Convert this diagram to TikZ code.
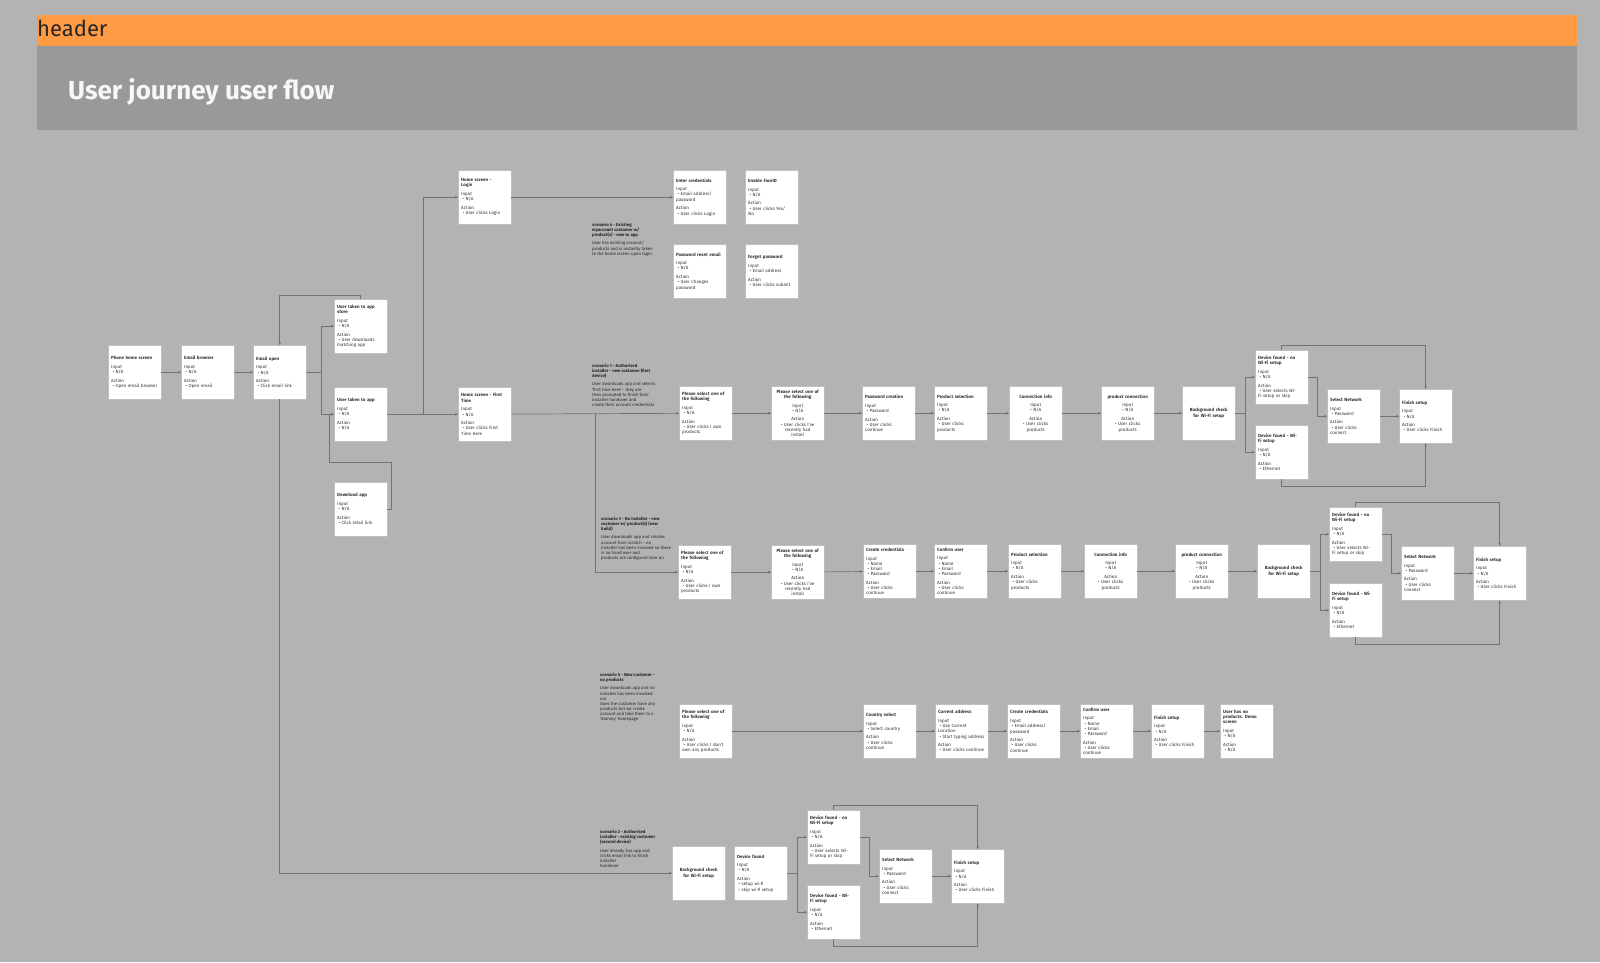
\documentclass[tikz,border=0pt]{standalone}
\usepackage{fontspec}
\setmainfont{Fira Sans}
\usetikzlibrary{arrows.meta}

\definecolor{canvas}{HTML}{B3B3B3}
\definecolor{headorange}{HTML}{FF9B45}
\definecolor{titlegray}{HTML}{999999}

\def\boxw{47}
% pieces of a screen card
\newcommand{\inp}{\par\vspace{3.5pt}Input}
\newcommand{\act}{\par\vspace{3.5pt}Action}
\newcommand{\bul}[1]{\par\hangindent=6pt\hangafter=1\hspace*{1.5pt}\textbullet\hspace{1.5pt}#1}
\newcommand{\cbul}[1]{\par\textbullet\ #1}

\begin{document}
\begin{tikzpicture}[x=1pt, y=-1pt, >={Stealth[length=3pt,width=2.6pt]}]
    \tikzstyle{screen}=[draw=black!25, fill=white, line width=0.4pt, anchor=north west, text width=\boxw, inner xsep=3, inner ysep=2, minimum height=54, align=left, font=\fontsize{4.5}{5.2}\selectfont, text=black!80]
    \tikzstyle{centred screen}=[screen, align=center]
    \tikzstyle{note}=[anchor=north west, inner sep=0, align=left, font=\fontsize{4.3}{5.1}\selectfont, text=black!85]
    \tikzstyle{link}=[->, draw=black!55, line width=0.7pt]

    % Canvas and header bands
    \fill[canvas] (0,0) rectangle (1600,962);
    \fill[headorange] (37,15) rectangle (1577,46);
    \fill[titlegray] (37,46) rectangle (1577,130);
    \node[anchor=west, inner sep=0, font=\fontsize{22}{26}\selectfont, text=black!85] (hdr) at (37,28) {header};
    \node[anchor=base west, inner sep=0, font=\bfseries\fontsize{26}{30}\selectfont, text=white!97!black] (title) at (68,99) {User journey user flow};

    % Entry screens
    \node[screen] (phone) at (108,345) {\textbf{Phone home screen}\inp\bul{N/A}\act\bul{Open email browser}};
    \node[screen] (browser) at (181,345) {\textbf{Email browser}\inp\bul{N/A}\act\bul{Open email}};
    \node[screen] (eopen) at (253,345) {\textbf{Email open}\inp\bul{N/A}\act\bul{Click email link}};
    \node[screen] (store) at (334,299) {\textbf{User taken to app\\store}\inp\bul{N/A}\act\bul{User downloads\\matching app}};
    \node[screen] (app) at (334,387) {\textbf{User taken to app}\inp\bul{N/A}\act\bul{N/A}};
    \node[screen] (download) at (334,482) {\textbf{Download app}\inp\bul{N/A}\act\bul{Click retail link}};

    % Scenario 4 - login
    \node[screen] (login) at (458,170) {\textbf{Home screen -\\Login}\inp\bul{N/A}\act\bul{User clicks Login}};
    \node[screen] (creds) at (673,170) {\textbf{Enter credentials}\inp\bul{Email address/\\password}\act\bul{User clicks Login}};
    \node[screen] (faceid) at (745,170) {\textbf{Enable FaceID}\inp\bul{N/A}\act\bul{User clicks Yes/\\No}};
    \node[screen] (reset) at (673,244) {\textbf{Password reset email}\inp\bul{N/A}\act\bul{User Changes\\password}};
    \node[screen] (forgot) at (745,244) {\textbf{Forgot password}\inp\bul{Email address}\act\bul{User clicks submit}};
    \node[note] (sc4) at (592,223) {\textbf{scenario 4 - Existing}\\\textbf{myaccount customer w/}\\\textbf{product(s) - new to app}\\[3pt]User has existing account/\\products and is instantly taken\\to the home screen upon login.};

    % Scenario 1 - first time here
    \node[screen] (first) at (458,387) {\textbf{Home screen - First\\Time}\inp\bul{N/A}\act\bul{User clicks First\\Time Here}};
    \node[screen] (sel1a) at (679,386) {\textbf{Please select one of\\the following}\inp\bul{N/A}\act\bul{User clicks I own\\products}};
    \node[centred screen] (sel1b) at (771,386) {\textbf{Please select one of\\the following}\inp\cbul{N/A}\act\cbul{User clicks I've\\recently had\\install}};
    \node[screen] (pwd1) at (862,386) {\textbf{Password creation}\inp\bul{Password}\act\bul{User clicks\\continue}};
    \node[screen] (prod1) at (934,386) {\textbf{Product selection}\inp\bul{N/A}\act\bul{User clicks\\products}};
    \node[centred screen] (conn1) at (1009,386) {\textbf{Connection info}\inp\cbul{N/A}\act\cbul{User clicks\\products}};
    \node[centred screen] (pconn1) at (1101,386) {\textbf{product connection}\inp\cbul{N/A}\act\cbul{User clicks\\products}};
    \node[centred screen] (bg1) at (1182,386) {\textbf{Background check\\for Wi-Fi setup}};
    \node[screen] (nowifi1) at (1255,350) {\textbf{Device found - no\\Wi-Fi setup}\inp\bul{N/A}\act\bul{User selects Wi-\\Fi setup or skip}};
    \node[screen] (wifi1) at (1255,425) {\textbf{Device found - Wi-\\Fi setup}\inp\bul{N/A}\act\bul{Ethernet}};
    \node[screen] (net1) at (1327,389) {\textbf{Select Network}\inp\bul{Password}\act\bul{User clicks\\connect}};
    \node[screen] (fin1) at (1399,389) {\textbf{Finish setup}\inp\bul{N/A}\act\bul{User clicks Finish}};
    \node[note] (sc1) at (592,364) {\textbf{scenario 1 - Authorised}\\\textbf{installer - new customer (first}\\\textbf{device)}\\[3pt]User downloads app and selects\\`first time here' - they are\\then prompted to finish their\\installer handover and\\create their account credentials};

    % Scenario 3 - no installer
    \node[screen] (sel2a) at (678,545) {\textbf{Please select one of\\the following}\inp\bul{N/A}\act\bul{User clicks I own\\products}};
    \node[centred screen] (sel2b) at (771,545) {\textbf{Please select one of\\the following}\inp\cbul{N/A}\act\cbul{User clicks I've\\recently had\\install}};
    \node[screen] (cred2) at (863,544) {\textbf{Create credentials}\inp\bul{Name}\bul{Email}\bul{Password}\act\bul{User clicks\\continue}};
    \node[screen] (conf2) at (934,544) {\textbf{Confirm user}\inp\bul{Name}\bul{Email}\bul{Password}\act\bul{User clicks\\continue}};
    \node[screen] (prod2) at (1008,544) {\textbf{Product selection}\inp\bul{N/A}\act\bul{User clicks\\products}};
    \node[centred screen] (conn2) at (1084,544) {\textbf{Connection info}\inp\cbul{N/A}\act\cbul{User clicks\\products}};
    \node[centred screen] (pconn2) at (1175,544) {\textbf{product connection}\inp\cbul{N/A}\act\cbul{User clicks\\products}};
    \node[centred screen] (bg2) at (1257,544) {\textbf{Background check\\for Wi-Fi setup}};
    \node[screen] (nowifi2) at (1329,507) {\textbf{Device found - no\\Wi-Fi setup}\inp\bul{N/A}\act\bul{User selects Wi-\\Fi setup or skip}};
    \node[screen] (wifi2) at (1329,583) {\textbf{Device found - Wi-\\Fi setup}\inp\bul{N/A}\act\bul{Ethernet}};
    \node[screen] (net2) at (1401,546) {\textbf{Select Network}\inp\bul{Password}\act\bul{User clicks\\connect}};
    \node[screen] (fin2) at (1473,546) {\textbf{Finish setup}\inp\bul{N/A}\act\bul{User clicks Finish}};
    \node[note] (sc3) at (601,517) {\textbf{scenario 3 - No installer - new}\\\textbf{customer w/ product(s) (new}\\\textbf{build)}\\[3pt]User downloads app and creates\\account from scratch - no\\installer has been involved so there\\is no hand over and\\products are configured later on};

    % Scenario 5 - no products
    \node[screen] (sel3) at (679,704) {\textbf{Please select one of\\the following}\inp\bul{N/A}\act\bul{User clicks I don't\\own any products}};
    \node[screen] (country) at (863,704) {\textbf{Country select}\inp\bul{Select country}\act\bul{User clicks\\continue}};
    \node[screen] (address) at (935,704) {\textbf{Current address}\inp\bul{Use Current\\Location}\bul{Start typing address}\act\bul{User clicks continue}};
    \node[screen] (cred3) at (1007,704) {\textbf{Create credentials}\inp\bul{Email address/\\password}\act\bul{User clicks\\continue}};
    \node[screen] (conf3) at (1080,704) {\textbf{Confirm user}\inp\bul{Name}\bul{Email}\bul{Password}\act\bul{User clicks\\continue}};
    \node[screen] (fin3) at (1151,704) {\textbf{Finish setup}\inp\bul{N/A}\act\bul{User clicks Finish}};
    \node[screen] (nodemo) at (1220,704) {\textbf{User has no\\products: Demo\\screen}\inp\bul{N/A}\act\bul{N/A}};
    \node[note] (sc5) at (600,673) {\textbf{scenario 5 - New customer -}\\\textbf{no products}\\[3pt]User downloads app and no\\installer has been involved\\nor\\does the customer have any\\products but we create\\account and take them to a\\`dummy' homepage};

    % Scenario 2 - existing customer, second device
    \node[centred screen] (bg4) at (672,846) {\textbf{Background check\\for Wi-Fi setup}};
    \node[screen] (found4) at (734,846) {\textbf{Device found}\inp\bul{N/A}\act\bul{setup wi-fi}\bul{skip wi-fi setup}};
    \node[screen] (nowifi4) at (807,810) {\textbf{Device found - no\\Wi-Fi setup}\inp\bul{N/A}\act\bul{User selects Wi-\\Fi setup or skip}};
    \node[screen] (wifi4) at (807,885) {\textbf{Device found - Wi-\\Fi setup}\inp\bul{N/A}\act\bul{Ethernet}};
    \node[screen] (net4) at (879,849) {\textbf{Select Network}\inp\bul{Password}\act\bul{User clicks\\connect}};
    \node[screen] (fin4) at (951,849) {\textbf{Finish setup}\inp\bul{N/A}\act\bul{User clicks Finish}};
    \node[note] (sc2) at (600,830) {\textbf{scenario 2 - Authorised}\\\textbf{installer - existing customer}\\\textbf{(second device)}\\[3pt]User already has app and\\clicks email link to finish\\installer\\handover};

    % Turning points of the loops
    \coordinate (dlturn) at (329,462);
    \coordinate (split3) at (595,414);

    % Straight steps along each row
    \foreach \source/\dest in {phone/browser, browser/eopen, app/first, login/creds,
        first/sel1a, sel1a/sel1b, sel1b/pwd1, pwd1/prod1, prod1/conn1, conn1/pconn1, pconn1/bg1,
        sel2a/sel2b, sel2b/cred2, cred2/conf2, conf2/prod2, prod2/conn2, conn2/pconn2, pconn2/bg2,
        sel3/country, country/address, address/cred3, cred3/conf3, conf3/fin3, fin3/nodemo}
        \path[link] (\source) edge (\dest);

    % Branches out of the email
    \draw[link] (eopen.east) -- ++(15,0) |- (store.west);
    \draw[link] (eopen.east) -- ++(15,0) |- (app.west);
    \draw[link] (store.north) -- ++(0,-4) -| (eopen.north);
    \draw[link] (eopen.south) |- (bg4.west);
    \draw[link] (download.east) -- ++(4,0) |- (dlturn) |- (app.west);
    \draw[link] (app.east) -- ++(36,0) |- (login.west);
    \draw[link] (split3) |- (sel2a.west);

    % Wi-Fi part, the same in three rows
    \foreach \r/\from in {1/bg1, 2/bg2, 4/found4} {
        \draw[link] (\from.east) -- ++(10,0) |- (nowifi\r.west);
        \draw[link] (\from.east) -- ++(10,0) |- (wifi\r.west);
        \draw[link] (nowifi\r.east) -- ++(9,0) |- (net\r.west);
        \path[link] (net\r) edge (fin\r);
        \draw[link] (nowifi\r.north) -- ++(0,-5) -| (fin\r.north);
        \draw[link] (wifi\r.south) -- ++(0,7) -| (fin\r.south);
    }
\end{tikzpicture}
\end{document}
